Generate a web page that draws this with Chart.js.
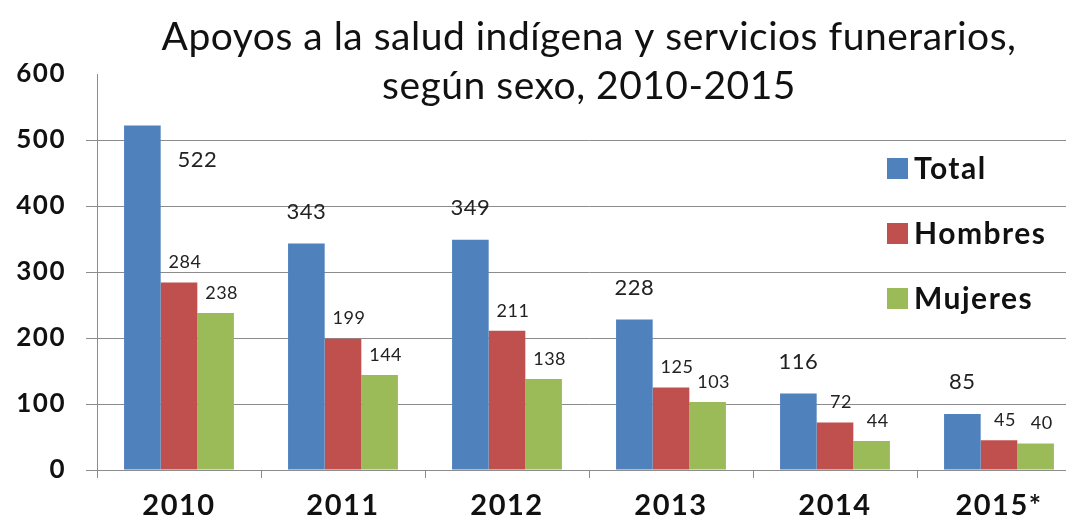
<!DOCTYPE html>
<html>
<head>
<meta charset="utf-8">
<script src="https://cdn.jsdelivr.net/npm/chart.js@4.4.1/dist/chart.umd.min.js"></script>
<style>
  html, body { margin: 0; padding: 0; background: #fff; overflow: hidden; }
  #wrap { width: 1090px; height: 527px; }
</style>
</head>
<body>
<div id="wrap"><canvas id="myChart" width="1090" height="527"></canvas></div>
<script>
const years = ["2010", "2011", "2012", "2013", "2014", "2015*"];
const total = [522, 343, 349, 228, 116, 85];
const hombres = [284, 199, 211, 125, 72, 45];
const mujeres = [238, 144, 138, 103, 44, 40];
const yTicks = [0, 100, 200, 300, 400, 500, 600];
const titleLines = ["Apoyos a la salud indígena y servicios funerarios,", "según sexo, 2010-2015"];

const FONT = "Lato, 'Open Sans', sans-serif";

// a bit of letter spacing for the axis text (Calibri-ish width)
const spacing = {
  id: "spacing",
  beforeDraw(chart) {
    chart.ctx.letterSpacing = "1.5px";
  },
};

// title, drawn over the top of the plot like the original
const titlePlugin = {
  id: "titleText",
  afterDraw(chart) {
    let c = chart.ctx;
    c.save();
    c.letterSpacing = "0.5px";
    c.fillStyle = "#111";
    c.font = "39px " + FONT;
    c.textAlign = "center";
    c.textBaseline = "middle";
    c.fillText(titleLines[0], 589, 37);
    c.fillText(titleLines[1], 589, 86);
    c.restore();
  },
};

// value labels above bars
const valueLabels = {
  id: "valueLabels",
  afterDatasetsDraw(chart) {
    let c = chart.ctx;
    c.save();
    c.letterSpacing = "0.5px";
    c.fillStyle = "#222";
    c.textAlign = "center";
    c.textBaseline = "middle";
    chart.data.datasets.forEach((ds, i) => {
      let meta = chart.getDatasetMeta(i);
      meta.data.forEach((bar, j) => {
        let x = bar.x;
        let y = bar.y;
        if (i === 0) {
          c.font = "22px " + FONT;
          if (j === 0) {
            // the 2010 total label sits beside its bar in the original
            x = bar.x + 55;
            y = bar.y + 34;
          } else {
            y = bar.y - 32;
          }
        } else {
          c.font = "18px " + FONT;
          x = bar.x + 6;
          y = bar.y - 20;
        }
        c.fillText(ds.data[j], x, y);
      });
    });
    c.restore();
  },
};

// legend placed inside the plot on the right
const sideLegend = {
  id: "sideLegend",
  afterDraw(chart) {
    let c = chart.ctx;
    c.save();
    c.letterSpacing = "1.5px";
    c.textBaseline = "middle";
    c.textAlign = "left";
    c.font = "bold 30px " + FONT;
    chart.data.datasets.forEach((ds, i) => {
      let y = 168 + i * 65;
      c.fillStyle = ds.backgroundColor;
      c.fillRect(887, y - 10, 21, 21);
      c.fillStyle = "#111";
      c.fillText(ds.label, 914, y + 1);
    });
    c.restore();
  },
};

let ctx = document.getElementById("myChart").getContext("2d");

let myChart = new Chart(ctx, {
  type: "bar",
  data: {
    labels: years,
    datasets: [
      { label: "Total", data: total, backgroundColor: "#4F81BD" },
      { label: "Hombres", data: hombres, backgroundColor: "#C0504D" },
      { label: "Mujeres", data: mujeres, backgroundColor: "#9BBB59" },
    ],
  },
  options: {
    responsive: false,
    animation: false,
    layout: { padding: { top: 74, right: 9, left: 0, bottom: 0 } },
    datasets: {
      bar: { categoryPercentage: 0.67, barPercentage: 1.0 },
    },
    plugins: {
      legend: { display: false },
      title: { display: false },
      tooltip: { enabled: false },
    },
    scales: {
      x: {
        grid: { display: true, drawOnChartArea: false, drawTicks: true, tickLength: 8, color: "#8c8c8c", offset: true },
        border: { color: "#8c8c8c", width: 1 },
        ticks: {
          color: "#111",
          font: { family: FONT, size: 29, weight: "bold" },
          padding: 10,
        },
        afterFit(scale) {
          scale.height = 57;
        },
      },
      y: {
        min: 0,
        max: 600,
        afterBuildTicks(scale) {
          scale.ticks = yTicks.map((v) => ({ value: v }));
        },
        grid: {
          color: (ctx) => (ctx.tick && ctx.tick.value === 600 ? "rgba(0,0,0,0)" : "#8c8c8c"),
          tickLength: 11,
          lineWidth: 1,
        },
        border: { color: "#8c8c8c", width: 1 },
        ticks: {
          color: "#111",
          font: { family: FONT, size: 26, weight: "bold" },
          padding: 20,
        },
        afterFit(scale) {
          scale.width = 97;
        },
      },
    },
  },
  plugins: [spacing, titlePlugin, valueLabels, sideLegend],
});
</script>
</body>
</html>
